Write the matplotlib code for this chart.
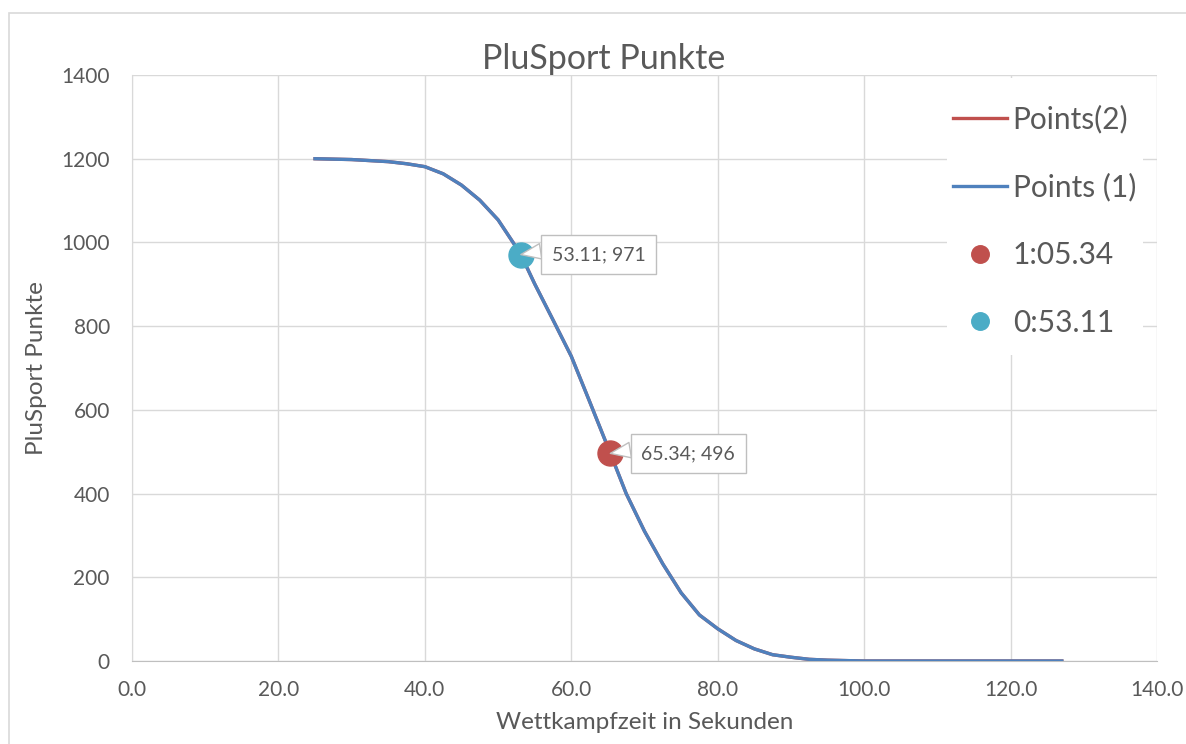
import matplotlib
matplotlib.use('Agg')
import matplotlib.pyplot as plt
from matplotlib.patches import Rectangle

plt.rcParams['font.family'] = ['Lato', 'DejaVu Sans']

# Kurve
zeit = [25, 30, 35, 37.5, 40, 42.5, 45, 47.5, 50, 52.5, 53.11, 55, 57.5, 60,
        62.5, 65.34, 67.5, 70, 72.5, 75, 77.5, 80, 82.5, 85, 87.5, 90, 92.5,
        95, 97.5, 100, 110, 120, 127]
punkte = [1200, 1198, 1193, 1188, 1181, 1164, 1137, 1101, 1054, 988, 971, 901,
          815, 728, 620, 496, 400, 310, 232, 163, 110, 77, 49, 29, 15, 9, 4,
          2, 1, 0, 0, 0, 0]

# Einzelpunkte
zeit_1 = [65.34]
punkte_1 = [496]
zeit_2 = [53.11]
punkte_2 = [971]

x_ticks = [0, 20, 40, 60, 80, 100, 120, 140]
y_ticks = [0, 200, 400, 600, 800, 1000, 1200, 1400]

grau = '#595959'
rot = '#C0504D'
blau = '#4F81BD'
cyan = '#4BACC6'

fig = plt.figure(figsize=(11.86, 7.44), dpi=100)
ax = fig.add_axes([132 / 1186, 1 - 661 / 744, 1025 / 1186, 586 / 744])

# Rahmen um das Diagramm
fig.patches.append(Rectangle((9 / 1186, -0.1), 1.2, 1 - 13 / 744 + 0.1,
                             transform=fig.transFigure, fill=False,
                             edgecolor='#D9D9D9', linewidth=1.2))

ax.plot(zeit, punkte, color=rot, linewidth=2.4, label='Points(2)', zorder=3)
ax.plot(zeit, punkte, color=blau, linewidth=2.4, label='Points (1)', zorder=4,
        solid_joinstyle='round')
ax.plot(zeit_1, punkte_1, 'o', color=rot, markersize=18, label='1:05.34', zorder=5)
ax.plot(zeit_2, punkte_2, 'o', color=cyan, markersize=18, label='0:53.11', zorder=5)

for xs, ys in [(zeit_2, punkte_2), (zeit_1, punkte_1)]:
    ax.annotate('%.2f; %d' % (xs[0], ys[0]), xy=(xs[0], ys[0]),
                xytext=(31, 0), textcoords='offset pixels',
                ha='left', va='center', fontsize=14, color=grau, zorder=6,
                bbox=dict(boxstyle='square,pad=0.55', facecolor='white',
                          edgecolor='#BFBFBF', linewidth=1),
                arrowprops=dict(arrowstyle='wedge,tail_width=0.8',
                                facecolor='white', edgecolor='#BFBFBF',
                                linewidth=1, relpos=(0, 0.8),
                                shrinkA=0, shrinkB=0))

ax.set_xlim(0, 140)
ax.set_ylim(0, 1400)
ax.set_xticks(x_ticks)
ax.set_xticklabels(['%.1f' % v for v in x_ticks])
ax.set_yticks(y_ticks)
ax.grid(True, color='#D9D9D9', linewidth=1.0)
ax.set_axisbelow(True)
ax.tick_params(length=0, labelsize=15, colors=grau)
ax.tick_params(axis='y', pad=16)
ax.tick_params(axis='x', pad=14)
for s in ['top', 'right']:
    ax.spines[s].set_visible(False)
ax.spines['left'].set_color('#D9D9D9')
ax.spines['bottom'].set_color('#BFBFBF')

ax.set_title('PluSport Punkte', fontsize=24.5, color=grau, pad=2, x=0.4605)
ax.set_xlabel('Wettkampfzeit in Sekunden', fontsize=17.5, color=grau, labelpad=8)
ax.set_ylabel('PluSport Punkte', fontsize=17.5, color=grau, labelpad=10)

# weisser Hintergrund der Legende
ax.add_patch(Rectangle((0.795, 0.522), 0.191, 0.473, transform=ax.transAxes,
                       facecolor='white', edgecolor='none', zorder=2))
leg = ax.legend(loc='upper left', bbox_to_anchor=(0.801, 0.95), frameon=False,
                fontsize=21.5, handlelength=1.8, handletextpad=0.2,
                labelspacing=1.33, borderpad=0, borderaxespad=0, markerscale=0.7)
for t in leg.get_texts():
    t.set_color(grau)

plt.savefig('out.png', dpi=100)
